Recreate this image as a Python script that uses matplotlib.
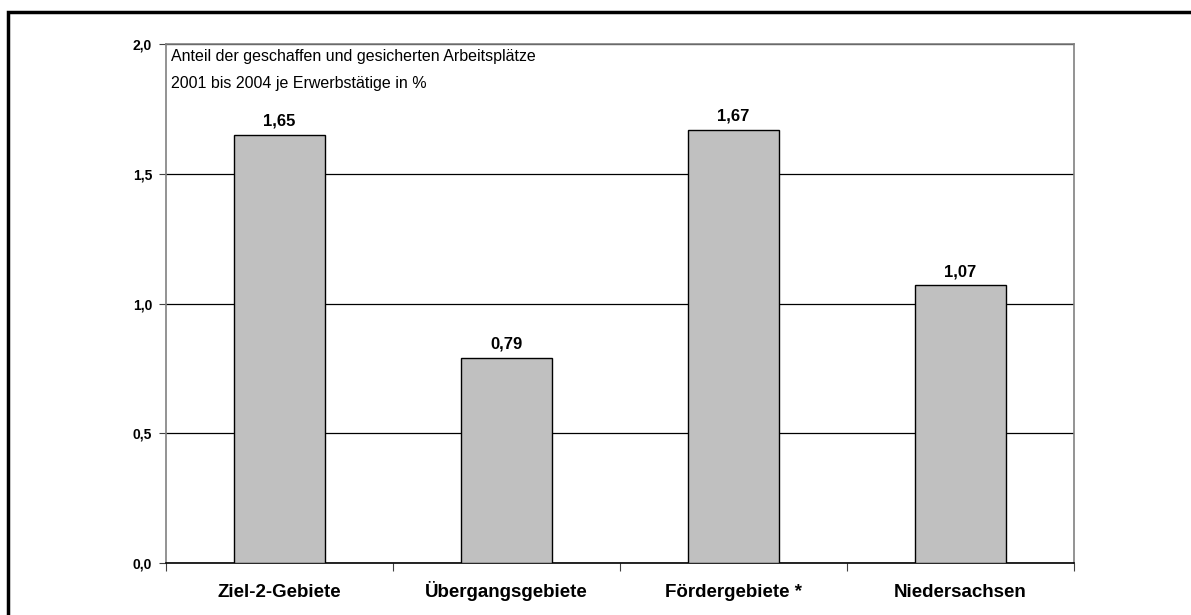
import numpy as np
import matplotlib.pyplot as plt
import matplotlib.patches as mpatches
import matplotlib.transforms as mtransforms

plt.rcParams['font.family'] = ['Liberation Sans', 'DejaVu Sans']

categories = ["Ziel-2-Gebiete", "Übergangsgebiete", "Fördergebiete *", "Niedersachsen"]
values = [1.65, 0.79, 1.67, 1.07]
yticks = [0.0, 0.5, 1.0, 1.5, 2.0]
note = "Anteil der geschaffen und gesicherten Arbeitsplätze\n2001 bis 2004 je Erwerbstätige in %"


def de(v, nd):
    return f"{v:.{nd}f}".replace(".", ",")


fig = plt.figure(figsize=(11.91, 6.15), dpi=100)
ax = fig.add_axes([166 / 1191, 1 - 563 / 615, 908 / 1191, 519 / 615])

# outer frame (runs off the right and bottom edge)
fig.patches.append(mpatches.Rectangle((8 / 1191, -0.05), 1.2, 1 - 12 / 615 + 0.05,
                                      transform=fig.transFigure, fill=False,
                                      edgecolor="black", linewidth=2.5, zorder=0))

x = np.arange(len(categories))
ax.bar(x, values, width=0.4, color="#c0c0c0", edgecolor="black", linewidth=1.0, zorder=3)
for xi, v in zip(x, values):
    ax.annotate(de(v, 2), (xi, v), xytext=(0, 6.5), textcoords="offset points",
                ha="center", va="baseline", fontsize=12, fontweight="bold")

ax.set_xlim(-0.5, len(categories) - 0.5)
ax.set_ylim(0, 2.0)
ax.set_yticks(yticks)
ax.set_yticklabels([de(t, 1) for t in yticks], fontsize=10, fontweight="bold")
ax.yaxis.grid(True, color="black", linewidth=0.9, zorder=1)
ax.set_axisbelow(True)

# boundary ticks between categories, labels drawn separately on a common baseline
ax.set_xticks(np.arange(-0.5, len(categories), 1.0))
ax.set_xticklabels([])
ax.tick_params(axis="x", length=6, color="#404040", direction="out")
ax.tick_params(axis="y", length=5, color="#404040", direction="out", pad=5)
trans = mtransforms.blended_transform_factory(ax.transData, ax.transAxes)
for xi, name in zip(x, categories):
    ax.text(xi, -34 / 519, name, transform=trans, ha="center", va="baseline",
            fontsize=13.5, fontweight="bold")

for side in ("left", "right", "top"):
    ax.spines[side].set_color("#808080")
    ax.spines[side].set_linewidth(1.2)
ax.spines["bottom"].set_color("black")
ax.spines["bottom"].set_linewidth(1.2)

ax.text(0.005, 0.99, note, transform=ax.transAxes, ha="left", va="top",
        fontsize=11.5, linespacing=2.0)

fig.savefig("out.png", dpi=100)
